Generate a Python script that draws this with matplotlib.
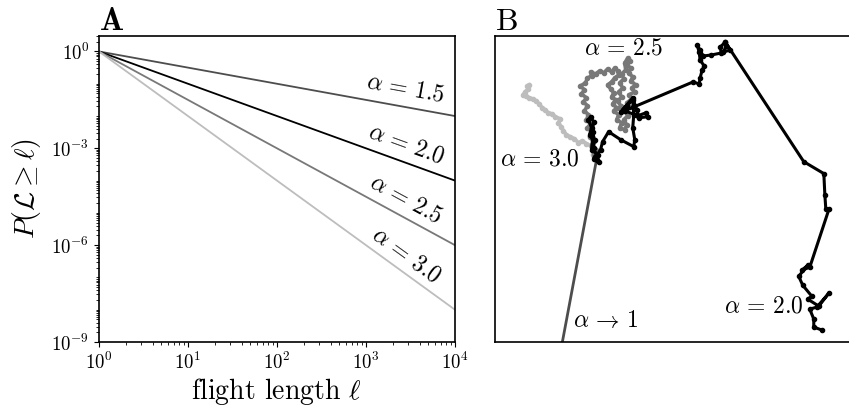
import numpy as np
import matplotlib
matplotlib.use("Agg")
import matplotlib.pyplot as plt
from matplotlib.ticker import FixedLocator, NullFormatter, LogLocator

plt.rcParams.update({
    "mathtext.fontset": "cm",
    "font.family": "serif",
    "font.serif": ["cmr10"],
    "axes.formatter.use_mathtext": True,
    "axes.unicode_minus": False,
})

# exponents of the flight length distribution and their grey levels
alphas = [1.5, 2.0, 2.5, 3.0]
alpha_colors = ["0.3", "k", "0.47", "0.74"]
ell_min, ell_max = 1.0, 1e4

# example walks (x, y displacement from the common start)
walk_a30_x = [0, -4, -2, -6, -10, -14, -18, -22, -26, -30, -33, -35, -38, -36, -41,
              -44, -48, -51, -54, -57, -60, -63, -67, -70, -73, -71, -68, -69, -67]
walk_a30_y = [0, 5, 10, 14, 16, 19, 17, 21, 23, 25, 29, 33, 37, 41, 43,
              46, 47, 50, 52, 56, 59, 61, 62, 64, 65, 68, 71, 74, 75]

walk_a25_x = [0, -3, -1, -5, -3, -7, -5, -9, -6, -10, -8, -12, -9, -13, -10, -15, -12,
              -16, -11, -9, -5, -6, -1, 3, 7, 11, 15, 18, 21, 22, 18, 15, 11, 14, 17,
              15, 19, 16, 20, 17, 22, 20, 25, 23, 28, 30, 27, 31, 28, 33, 30, 35, 32,
              38, 35, 39, 34, 36, 32, 34, 30, 33, 31, 28, 29, 25, 27, 23, 26, 22, 25,
              21, 24]
walk_a25_y = [0, 5, 10, 14, 19, 23, 28, 32, 36, 40, 45, 49, 54, 58, 62, 66, 70,
              74, 77, 82, 84, 88, 86, 89, 87, 91, 88, 92, 89, 85, 82, 78, 75, 71, 67,
              63, 60, 56, 52, 49, 45, 40, 37, 32, 30, 35, 40, 44, 49, 53, 57, 61, 65,
              68, 72, 75, 79, 83, 87, 92, 95, 99, 102, 97, 90, 86, 81, 77, 72, 68, 63,
              59, 54]

walk_a20_x = [0, -2, 2, -3, 1, -5, -4, -7, -5, -8, -6, -3, -4, -2, -3, 0, 4, 6, 12,
              24, 37, 38, 36, 37, 36, 30, 24, 36, 40, 42, 51, 49, 41, 28, 96, 102,
              103, 105, 107, 103, 102, 100, 103, 106, 114, 124, 123, 128, 133, 126,
              129, 128, 206, 226, 227, 228, 231, 212, 204, 210, 201, 205, 214, 210,
              221, 231, 219, 212, 216, 216, 224]
walk_a20_y = [0, 3, -2, 1, 5, 10, 20, 25, 32, 40, 43, 38, 28, 20, 12, 4, 10, 18, 28,
              20, 13, 20, 32, 45, 60, 54, 48, 62, 50, 42, 43, 47, 44, 49, 78, 76,
              82, 90, 94, 100, 108, 115, 110, 104, 105, 107, 113, 118, 110, 108,
              114, 118, -2, -14, -35, -50, -50, -108, -111, -106, -117, -126, -137,
              -140, -147, -134, -148, -150, -160, -168, -171]

# ballistic limit: one straight flight
walk_a1_x = [0, -52]
walk_a1_y = [0, -280]

fig = plt.figure(figsize=(8.49, 4.09), dpi=100)
axA = fig.add_axes([0.1166, 0.1638, 0.4193, 0.748])
axB = fig.add_axes([0.583, 0.1638, 0.43, 0.748])

# --- A: complementary cumulative distributions
ell = np.logspace(np.log10(ell_min), np.log10(ell_max), 200)
for a, c in zip(alphas, alpha_colors):
    axA.loglog(ell, ell ** (-(a - 1.0)), color=c, lw=1.3)
axA.set_xlim(ell_min, ell_max)
axA.set_ylim(1e-9, 3.0)
axA.set_yticks([1e-9, 1e-6, 1e-3, 1e0])
minor_y = [m * 10.0 ** k for k in range(-9, 1) for m in range(1, 10)]
minor_y = [v for v in minor_y if v not in (1e-9, 1e-6, 1e-3, 1e0)]
axA.yaxis.set_minor_locator(FixedLocator(minor_y))
axA.yaxis.set_minor_formatter(NullFormatter())
axA.xaxis.set_minor_locator(LogLocator(base=10, subs=np.arange(2, 10), numticks=100))
axA.tick_params(labelsize=13.5)
axA.set_xlabel(r"flight length $\ell$", fontsize=20, labelpad=2)
axA.set_ylabel(r"$P(\mathcal{L} \geq \ell)$", fontsize=20, labelpad=6)
axA.set_title(r"$\mathbf{A}$", loc="left", fontsize=23, pad=2)

# labels sit just above each line, rotated along it
lx = 10 ** 3.45
for a in alphas:
    ly = lx ** (-(a - 1.0)) * 10 ** 0.58
    p1 = axA.transData.transform((ell_min, 1.0))
    p2 = axA.transData.transform((ell_max, ell_max ** (-(a - 1.0))))
    ang = np.degrees(np.arctan2(p2[1] - p1[1], p2[0] - p1[0]))
    axA.text(lx, ly, r"$\alpha \,=\, %.1f$" % a, fontsize=17, rotation=ang,
             rotation_mode="anchor", ha="center", va="center")

# --- B: sample trajectories
kw = dict(lw=2.6, marker="o", ms=3.0, solid_joinstyle="round")
axB.plot(walk_a30_x, walk_a30_y, color=alpha_colors[3], **kw)
axB.plot(walk_a25_x, walk_a25_y, color=alpha_colors[2], **kw)
axB.plot(walk_a1_x, walk_a1_y, color=alpha_colors[0], lw=2.0)
axB.plot(walk_a20_x, walk_a20_y, color=alpha_colors[1], lw=2.2, marker="o",
         ms=3.0, solid_joinstyle="round")
axB.set_xlim(-101, 262)
axB.set_ylim(-183, 124)
axB.set_xticks([])
axB.set_yticks([])
axB.set_title(r"$\mathrm{B}$", loc="left", fontsize=23, pad=2)

axB.text(27, 112, r"$\alpha \,=\, 2.5$", fontsize=17, ha="center", va="center")
axB.text(-56, 0, r"$\alpha \,=\, 3.0$", fontsize=17, ha="center", va="center")
axB.text(9, -162, r"$\alpha \,\to\, 1$", fontsize=17, ha="center", va="center")
axB.text(166, -147, r"$\alpha \,=\, 2.0$", fontsize=17, ha="center", va="center")

for ax in (axA, axB):
    for s in ax.spines.values():
        s.set_linewidth(1.2)

fig.savefig("out.png", dpi=100)
